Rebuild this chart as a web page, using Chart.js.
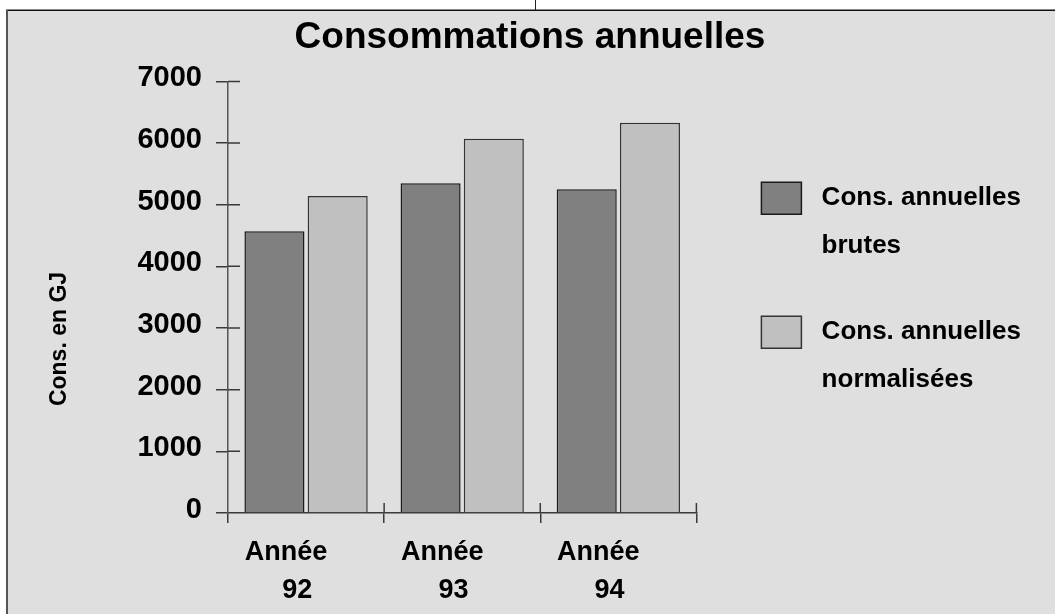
<!DOCTYPE html>
<html lang="fr">
<head>
<meta charset="utf-8">
<title>Consommations annuelles</title>
<script src="https://cdn.jsdelivr.net/npm/chart.js@4/dist/chart.umd.min.js"></script>
<style>
  html, body { margin: 0; padding: 0; background: #fff; }
  #wrap { position: relative; width: 1055px; height: 614px; }
</style>
</head>
<body>
<div id="wrap"><canvas id="c" width="1055" height="614"></canvas></div>
<script>
// Données
const years = ['92', '93', '94'];
const consBrutes = [4570, 5350, 5250];
const consNormalisees = [5140, 6070, 6330];
const seriesNames = [['Cons. annuelles', 'brutes'], ['Cons. annuelles', 'normalisées']];
const chartTitle = 'Consommations annuelles';
const yAxisTitle = 'Cons. en GJ';
const yMax = 7000;
const yStep = 1000;

const FONT = "'Liberation Sans', Arial, Helvetica, sans-serif";

// Fond gris encadré
const panel = {
  id: 'panel',
  beforeDraw(chart) {
    const { ctx, width, height } = chart;
    ctx.save();
    ctx.fillStyle = '#fff';
    ctx.fillRect(0, 0, width, height);
    ctx.fillStyle = '#dfdfdf';
    ctx.fillRect(6, 10, width - 6, height - 10);
    ctx.strokeStyle = '#111';
    ctx.lineWidth = 1.5;
    ctx.beginPath(); ctx.moveTo(6, 10.25); ctx.lineTo(width, 10.25); ctx.stroke();
    ctx.strokeStyle = '#555';
    ctx.lineWidth = 2;
    ctx.beginPath(); ctx.moveTo(7, 10); ctx.lineTo(7, height); ctx.stroke();
    ctx.strokeStyle = '#222';
    ctx.lineWidth = 1;
    ctx.beginPath(); ctx.moveTo(535.5, 0); ctx.lineTo(535.5, 10); ctx.stroke();
    ctx.restore();
  }
};

// Graduations qui traversent les axes (partie intérieure)
const innerTicks = {
  id: 'innerTicks',
  afterDatasetsDraw(chart) {
    const { ctx, chartArea, scales } = chart;
    const ys = scales.y, xs = scales.x;
    ctx.save();
    ctx.strokeStyle = '#3a3a3a';
    ctx.lineWidth = 1.5;
    ctx.beginPath();
    for (let v = yStep; v <= yMax; v += yStep) {
      const py = ys.getPixelForValue(v);
      ctx.moveTo(chartArea.left, py);
      ctx.lineTo(chartArea.left + 12, py);
    }
    for (let i = 1; i <= years.length; i++) {
      const px = xs.getPixelForValue(i - 0.5);
      ctx.moveTo(px, chartArea.bottom);
      ctx.lineTo(px, chartArea.bottom - 10);
    }
    ctx.stroke();
    ctx.restore();
  }
};

// Titre de l'axe vertical
const yTitle = {
  id: 'yTitle',
  afterDraw(chart) {
    const { ctx, chartArea } = chart;
    ctx.save();
    ctx.translate(60, chartArea.bottom - 174);
    ctx.rotate(-Math.PI / 2);
    ctx.font = 'bold 23px ' + FONT;
    ctx.fillStyle = '#000';
    ctx.textAlign = 'center';
    ctx.textBaseline = 'middle';
    ctx.fillText(yAxisTitle, 0, 0);
    ctx.restore();
  }
};

new Chart(document.getElementById('c'), {
  type: 'bar',
  data: {
    labels: years.map(y => ['Année', '   ' + y]),
    datasets: [
      {
        label: seriesNames[0],
        data: consBrutes,
        backgroundColor: '#808080',
        borderColor: '#1a1a1a',
        borderWidth: 1.5
      },
      {
        label: seriesNames[1],
        data: consNormalisees,
        backgroundColor: '#c0c0c0',
        borderColor: '#333',
        borderWidth: 1.5
      }
    ]
  },
  options: {
    responsive: false,
    devicePixelRatio: 1,
    animation: false,
    layout: { padding: { top: 10, right: 24, bottom: -7, left: 29 } },
    datasets: {
      bar: { categoryPercentage: 0.81, barPercentage: 0.95 }
    },
    scales: {
      x: {
        offset: true,
        grid: {
          offset: true,
          drawOnChartArea: false,
          drawTicks: true,
          tickLength: 10,
          color: '#3a3a3a',
          lineWidth: 1.5
        },
        border: { display: true, color: '#3a3a3a', width: 1.5 },
        ticks: {
          color: '#000',
          font: { family: FONT, size: 27, weight: 'bold', lineHeight: '38px' },
          padding: 11,
          labelOffset: -20,
          maxRotation: 0,
          autoSkip: false
        }
      },
      y: {
        min: 0,
        max: yMax,
        afterFit(scale) { scale.width = 199; },
        grid: {
          drawOnChartArea: false,
          drawTicks: true,
          tickLength: 12,
          color: '#3a3a3a',
          lineWidth: 1.5
        },
        border: { display: true, color: '#555', width: 1.5 },
        ticks: {
          stepSize: yStep,
          color: '#000',
          font: { family: FONT, size: 29, weight: 'bold' },
          padding: 14,
          labelOffset: -3,
          callback: v => String(v)
        }
      },
      gap: {
        type: 'linear',
        position: 'right',
        display: true,
        grid: { display: false },
        border: { display: false },
        ticks: { display: false },
        afterFit(scale) { scale.width = 27; }
      }
    },
    plugins: {
      title: {
        display: true,
        text: chartTitle,
        color: '#000',
        font: { family: FONT, size: 37, weight: 'bold', lineHeight: 1.2 },
        padding: { top: 6, bottom: 21 }
      },
      legend: {
        position: 'right',
        align: 'center',
        fullSize: false,
        maxWidth: 400,
        labels: {
          boxWidth: 40,
          boxHeight: 32,
          padding: 38,
          color: '#000',
          font: { family: FONT, size: 26, weight: 'bold', lineHeight: '48px' },
          generateLabels(chart) {
            const items = Chart.defaults.plugins.legend.labels.generateLabels(chart);
            items.forEach((it, i) => {
              it.text = seriesNames[i].map(s => ' ' + s);
              it.lineWidth = 1.5;
            });
            return items;
          }
        }
      },
      tooltip: { enabled: false }
    }
  },
  plugins: [panel, innerTicks, yTitle]
});
</script>
</body>
</html>
